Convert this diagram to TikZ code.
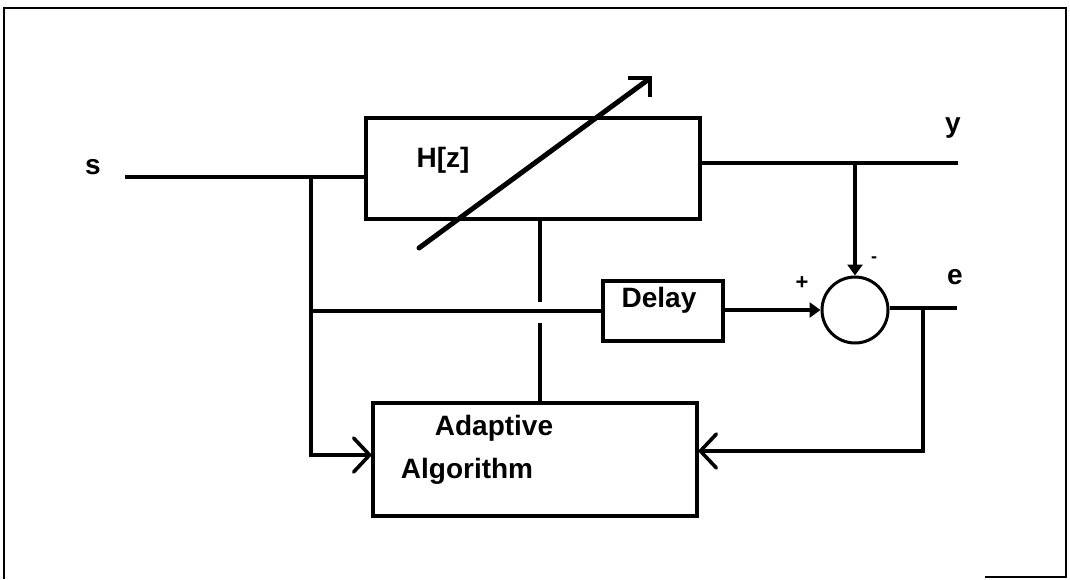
\documentclass[tikz,border=0pt]{standalone}
\usepackage{fontspec}
\setmainfont{Liberation Sans}
\usetikzlibrary{arrows.meta}
\begin{document}
\begin{tikzpicture}[x=1pt,y=-1pt,
  every node/.style={font=\fontsize{28}{30}\selectfont\bfseries},
  blk/.style={draw,line width=3.2pt,inner sep=0pt},
  wire/.style={line width=3.2pt},
  barb/.style={-{Straight Barb[length=16pt,width=34pt,line width=3.6pt,round]}},
  tri/.style={-{Triangle[length=11pt,width=15pt]}},
  lbl/.style={inner sep=0pt,anchor=center}]
\useasboundingbox (0,0) rectangle (1070,579);
% frame
\draw[line width=2.6pt] (4,579) -- (4,8) -- (1066,8) -- (1066,577) -- (985,577);
% blocks
\node[blk,minimum width=334pt,minimum height=101pt] (H) at (533,168.5) {};
\node[blk,minimum width=120pt,minimum height=60pt] (D) at (663,311) {};
\node[blk,minimum width=324pt,minimum height=113pt] (A) at (535,459.5) {};
\node[draw,circle,line width=3pt,minimum size=66pt,inner sep=0pt] (S) at (855,310) {};
% texts
\node[lbl] (Ht) at (443,160) {H[z]};
\node[lbl] (Dt) at (659,300) {Delay};
\node[lbl] (At1) at (494,428) {Adaptive};
\node[lbl] (At2) at (467,471) {Algorithm};
\node[lbl] (st) at (93,167) {s};
\node[lbl] (yt) at (953,128) {y};
\node[lbl] (et) at (955,277) {e};
\node[lbl,font=\fontsize{22}{24}\selectfont\bfseries] (pt) at (802,283) {+};
\node[lbl,font=\fontsize{18}{20}\selectfont\bfseries] (mt) at (874,260) {-};
% coordinates
\coordinate (sIn) at (125,177);
\coordinate (jS) at (311,177);
\coordinate (cS) at (311,455);
\coordinate (jD) at (311,311);
\coordinate (yOut) at (958,163);
\coordinate (jY) at (855,163);
\coordinate (eOut) at (957,308);
\coordinate (jE) at (923,308);
\coordinate (cE) at (923,451);
\coordinate (g1) at (540,302);
\coordinate (g2) at (540,323);
% connectors
\draw[wire] (sIn) -- (sIn -| H.west);
\draw[wire,barb] (jS) -- (cS) -- (cS -| A.west);
\draw[wire] (jD) -- (D.west);
\draw[wire,tri] (D.east |- S.west) -- (S.west);
\draw[wire] (H.east |- yOut) -- (yOut);
\draw[wire,tri] (jY) -- (S.north);
\draw[wire] (S.east |- eOut) -- (eOut);
\draw[wire,barb] (jE) -- (cE) -- (cE -| A.east);
\draw[wire] (H.south -| g1) -- (g1);
\draw[wire] (g2) -- (A.north -| g2);
% adjustable arrow
\coordinate (adjA) at (419,248);
\coordinate (adjB) at (649,79);
\draw[line width=5pt,line cap=round] (adjA) -- (adjB);
\draw[line width=4pt] (628,78) -- (650,78) -- (650,97);
\end{tikzpicture}
\end{document}
